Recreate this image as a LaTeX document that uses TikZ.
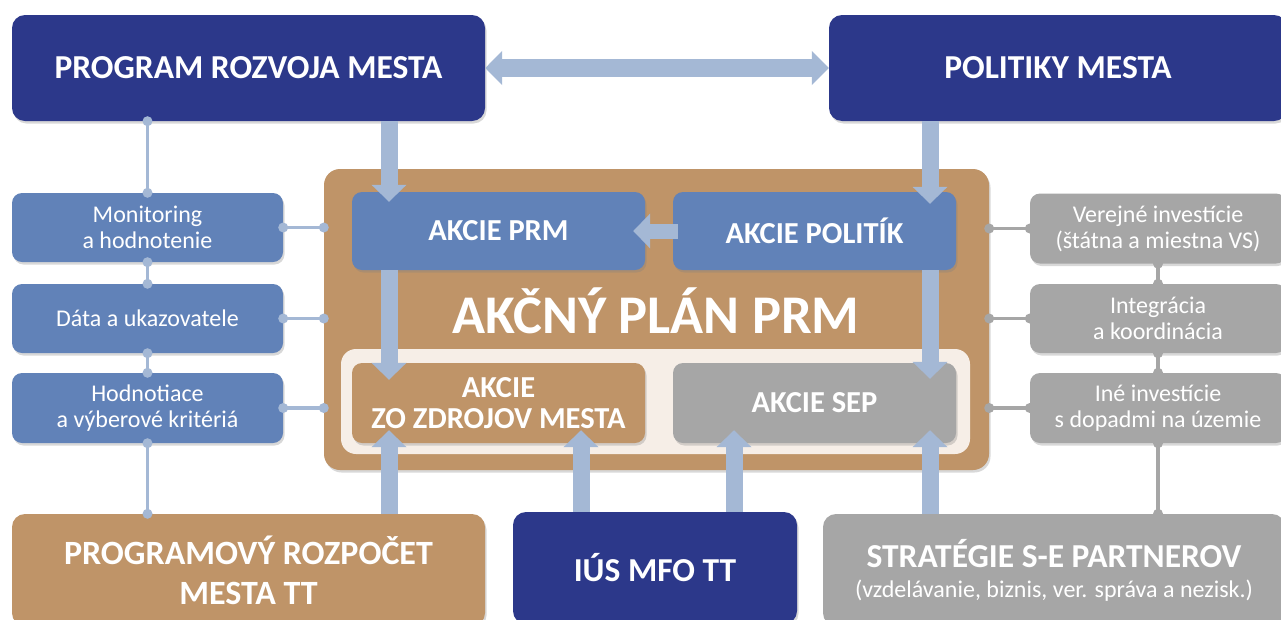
\documentclass[tikz,border=0pt]{standalone}
\usepackage{fontspec}
\setmainfont{Carlito}
\usetikzlibrary{arrows.meta,shadows,calc}
\definecolor{dblue}{HTML}{2C388A}
\definecolor{mblue}{HTML}{6182B8}
\definecolor{tanc}{HTML}{BF9468}
\definecolor{creamc}{HTML}{F6EEE7}
\definecolor{gboxc}{HTML}{A6A6A6}
\definecolor{larr}{HTML}{A4B8D5}
\tikzset{
  box/.style={rounded corners=13pt, inner sep=0pt, text=white, align=center,
    drop shadow={opacity=0.3,shadow xshift=1.5pt,shadow yshift=-2.5pt}},
  bigbox/.style={box, fill=dblue, font=\fontsize{33.5}{40}\selectfont\bfseries},
  actbox/.style={box, rounded corners=10pt, font=\fontsize{30.5}{31}\selectfont\bfseries},
  sidebox/.style={box, rounded corners=10pt, font=\fontsize{24}{26}\selectfont},
  botbox/.style={box, font=\fontsize{34}{40}\selectfont\bfseries},
  bigarr/.style={draw=larr, line width=17pt, -{Triangle[width=34pt,length=17pt]}},
}
\newcommand\conline[3]{\draw[#1,line width=3.5pt] (#2) -- (#3);
  \fill[#1] (#2) circle (5pt) (#3) circle (5pt);}
\begin{document}
\begin{tikzpicture}[x=1pt,y=-1pt]
\clip (0,0) rectangle (1281,619);
\fill[white] (0,0) rectangle (1281,619);
% top boxes
\node[bigbox, minimum width=473pt, minimum height=106pt] (prog) at (248.5,68) {PROGRAM ROZVOJA MESTA};
\node[bigbox, minimum width=458pt, minimum height=106pt] (pol) at (1058,68) {POLITIKY MESTA};
% main container
\node[box, fill=tanc, rounded corners=16pt, minimum width=665pt, minimum height=301pt] (brown) at (656.5,319.5) {};
\node[fill=creamc, rounded corners=15pt, inner sep=0pt, minimum width=629pt, minimum height=105pt] (cream) at (655.5,401.5) {};
\node[actbox, fill=mblue, minimum width=293pt, minimum height=78pt] (aprm) at (498.5,231) {AKCIE PRM};
\node[actbox, fill=mblue, minimum width=283pt, minimum height=78pt] (apol) at (814.5,231) {AKCIE POLITÍK};
\node[text=white, font=\fontsize{54.5}{58}\selectfont\bfseries, inner sep=0pt] (plan) at (656,311) {AKČNÝ PLÁN PRM};
\node[actbox, fill=tanc, minimum width=293pt, minimum height=80pt] (azdr) at (498.5,403) {AKCIE\\ZO ZDROJOV MESTA};
\node[actbox, fill=gboxc, minimum width=283pt, minimum height=80pt] (asep) at (814.5,403) {AKCIE SEP};
% left column
\node[sidebox, fill=mblue, minimum width=271pt, minimum height=69pt] (mon) at (147.5,227.5) {Monitoring\\a hodnotenie};
\node[sidebox, fill=mblue, minimum width=271pt, minimum height=69pt] (data) at (147.5,318.5) {Dáta a ukazovatele};
\node[sidebox, fill=mblue, minimum width=271pt, minimum height=70pt] (hod) at (147.5,408) {Hodnotiace\\a výberové kritériá};
% right column
\node[sidebox, fill=gboxc, minimum width=256pt, minimum height=70pt] (ver) at (1158,228.5) {Verejné investície\\(štátna a miestna VS)};
\node[sidebox, fill=gboxc, minimum width=256pt, minimum height=69pt] (integ) at (1158,318.5) {Integrácia\\a koordinácia};
\node[sidebox, fill=gboxc, minimum width=256pt, minimum height=70pt] (ine) at (1158,408) {Iné investície\\s dopadmi na územie};
% bottom boxes
\node[botbox, fill=tanc, minimum width=473pt, minimum height=112pt] (rozp) at (248.5,570) {PROGRAMOVÝ ROZPOČET\\MESTA TT};
\node[botbox, fill=dblue, font=\fontsize{33.5}{40}\selectfont\bfseries, minimum width=284pt, minimum height=112pt] (ius) at (655,568) {IÚS MFO TT};
\node[botbox, fill=gboxc, font=\fontsize{33.5}{34}\selectfont\bfseries, minimum width=462pt, minimum height=112pt] (strat) at (1054,570) {STRATÉGIE S-E PARTNEROV\\[-4pt]{\fontsize{24}{26}\selectfont\mdseries (vzdelávanie, biznis, ver. správa a nezisk.)}};
% helper x positions
\coordinate (cL) at (389,0);
\coordinate (cR) at (930,0);
\coordinate (cI1) at (581,0);
\coordinate (cI2) at (734,0);
% connectors left
\conline{larr}{prog.south -| mon.north}{mon.north}
\conline{larr}{mon.south}{data.north}
\conline{larr}{data.south}{hod.north}
\conline{larr}{hod.south}{rozp.north -| hod.south}
\conline{larr}{mon.east}{brown.west |- mon.east}
\conline{larr}{data.east}{brown.west |- data.east}
\conline{larr}{hod.east}{brown.west |- hod.east}
% connectors right
\conline{gboxc}{brown.east |- ver.west}{ver.west}
\conline{gboxc}{brown.east |- integ.west}{integ.west}
\conline{gboxc}{brown.east |- ine.west}{ine.west}
\conline{gboxc}{ver.south}{integ.north}
\conline{gboxc}{integ.south}{ine.north}
\conline{gboxc}{ine.south}{strat.north -| ine.south}
% big arrows
\draw[draw=larr, line width=18pt, {Triangle[width=33pt,length=17pt]}-{Triangle[width=33pt,length=17pt]}] (prog.east) -- (pol.west);
\draw[bigarr] (prog.south -| cL) -- ($(aprm.north -| cL)+(0,10)$);
\draw[bigarr] (pol.south -| cR) -- ($(apol.north -| cR)+(0,12)$);
\draw[bigarr, line width=15pt] ($(apol.west)+(5,0)$) -- ($(aprm.east)+(-12,0)$);
\draw[bigarr] (aprm.south -| cL) -- ($(azdr.north -| cL)+(0,17)$);
\draw[bigarr] (apol.south -| cR) -- ($(asep.north -| cR)+(0,16)$);
\draw[bigarr] (rozp.north -| cL) -- ($(azdr.south -| cL)+(0,-13)$);
\draw[bigarr] (ius.north -| cI1) -- ($(azdr.south -| cI1)+(0,-13)$);
\draw[bigarr] (ius.north -| cI2) -- ($(asep.south -| cI2)+(0,-13)$);
\draw[bigarr] (strat.north -| cR) -- ($(asep.south -| cR)+(0,-13)$);
\end{tikzpicture}
\end{document}
